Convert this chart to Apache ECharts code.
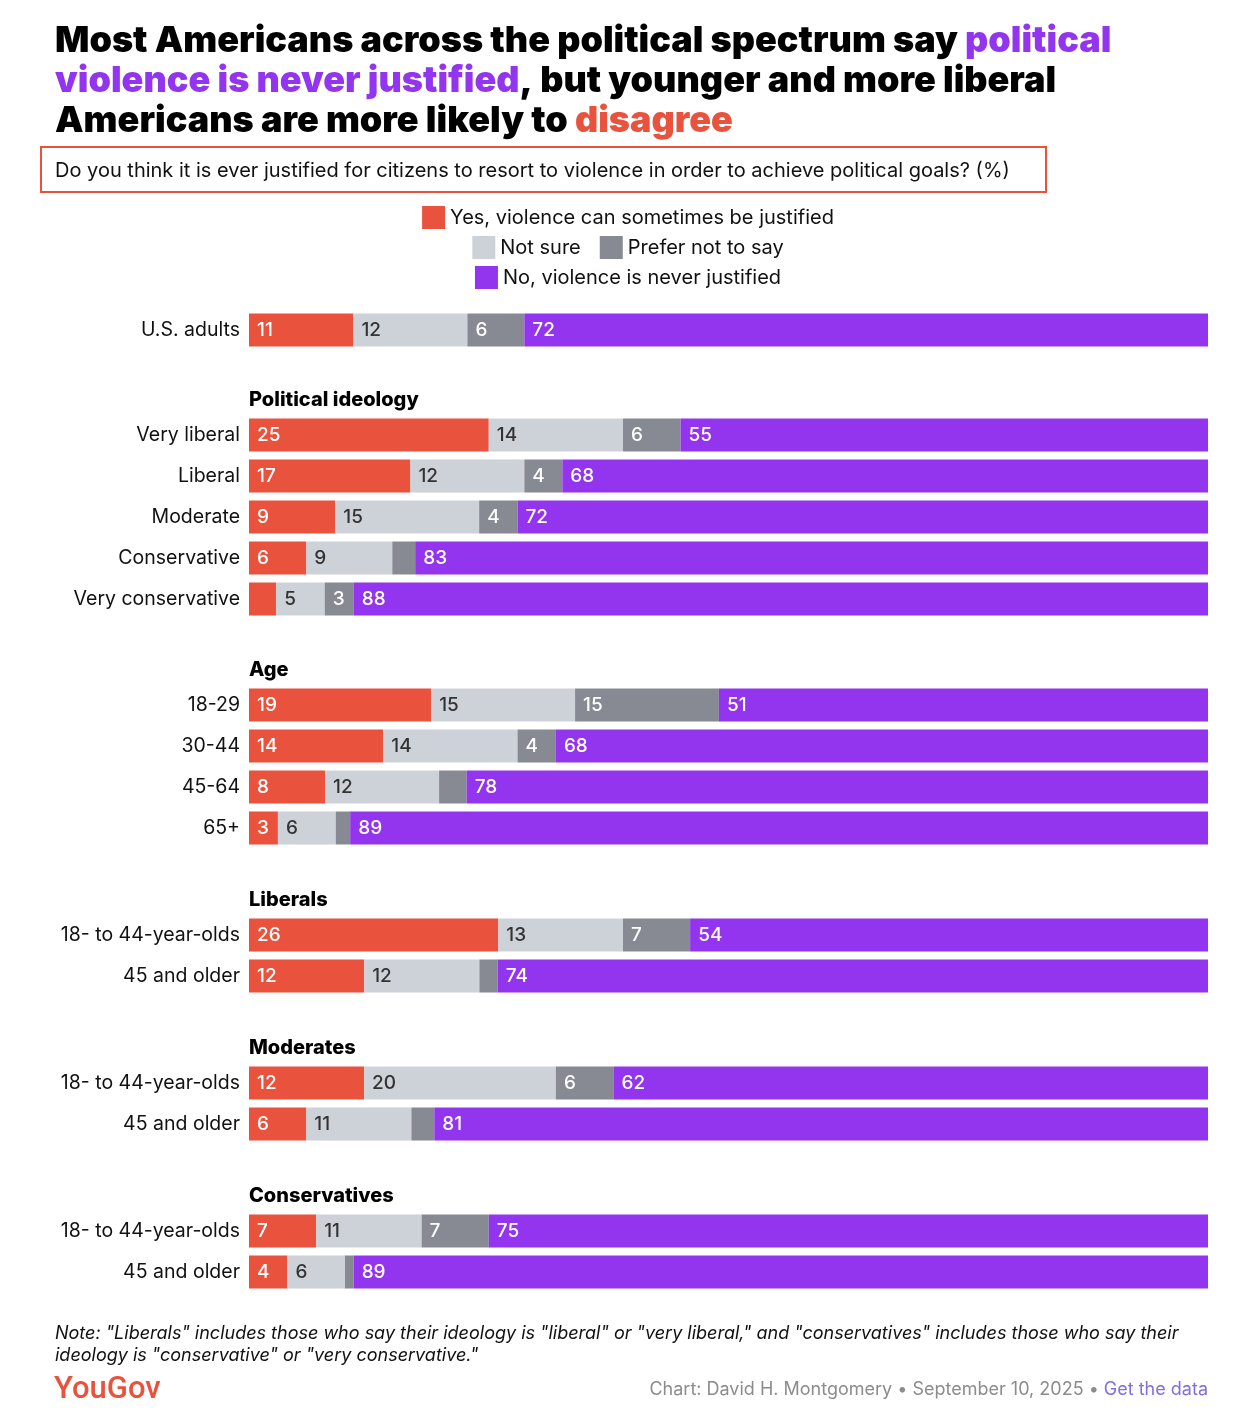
<!DOCTYPE html>
<html>
<head>
<meta charset="utf-8">
<script src="https://cdn.jsdelivr.net/npm/echarts@6/dist/echarts.min.js"></script>
<style>
html,body{margin:0;padding:0;background:#fff;}
#chart{width:1256px;height:1414px;}
</style>
</head>
<body>
<div id="chart"></div>
<script>
// groups of rows, first one has no header
var groupNames = ['', 'Political ideology', 'Age', 'Liberals', 'Moderates', 'Conservatives'];
var rowLabels = [
  ['U.S. adults'],
  ['Very liberal', 'Liberal', 'Moderate', 'Conservative', 'Very conservative'],
  ['18-29', '30-44', '45-64', '65+'],
  ['18- to 44-year-olds', '45 and older'],
  ['18- to 44-year-olds', '45 and older'],
  ['18- to 44-year-olds', '45 and older']
];
var answerNames = ['Yes, violence can sometimes be justified', 'Not sure', 'Prefer not to say', 'No, violence is never justified'];

// percentages (unlabelled small segments estimated from their width)
var yesJustified   = [[11], [25, 17, 9, 6, 2.8], [19, 14, 8, 3], [26, 12], [12, 6], [7, 4]];
var notSure        = [[12], [14, 12, 15, 9, 5], [15, 14, 12, 6], [13, 12], [20, 11], [11, 6]];
var preferNot      = [[6], [6, 4, 4, 2.4, 3], [15, 4, 2.9, 1.5], [7, 1.9], [6, 2.4], [7, 0.9]];
var neverJustified = [[72], [55, 68, 72, 83, 88], [51, 68, 78, 89], [54, 74], [62, 81], [75, 89]];

var answers = [yesJustified, notSure, preferNot, neverJustified];
var colors = ['#E9533D', '#CDD1D8', '#878A92', '#9334EE'];
var labelColors = ['#fff', '#333', '#fff', '#fff'];

// layout
var firstRowCenter = [330, 435, 705, 935, 1083, 1231];
var rowStep = 41;
var font = 'Inter, "Noto Sans", sans-serif';

var grids = [], xAxes = [], yAxes = [], series = [];
var titleFont = {fontFamily: 'Inter', fontWeight: 900, fontSize: 36, lineHeight: 40};
var titles = [
  {
    left: 55, top: 21, padding: 0,
    text: '{b|Most Americans across the political spectrum say }{p|political}\n' +
          '{p|violence is never justified}{b|, but younger and more liberal}\n' +
          '{b|Americans are more likely to }{r|disagree}',
    textStyle: {
      rich: {
        b: Object.assign({color: '#000'}, titleFont),
        p: Object.assign({color: '#9334EE'}, titleFont),
        r: Object.assign({color: '#E9533D'}, titleFont)
      }
    }
  },
  {
    left: 55, top: 161, padding: 0,
    text: 'Do you think it is ever justified for citizens to resort to violence in order to achieve political goals? (%)',
    textStyle: {fontFamily: font, fontWeight: 'normal', fontSize: 20, color: '#111'}
  },
  {
    left: 55, top: 1323, padding: 0,
    text: 'Note: "Liberals" includes those who say their ideology is "liberal" or "very liberal," and "conservatives" includes those who say their\nideology is "conservative" or "very conservative."',
    textStyle: {fontFamily: font, fontStyle: 'italic', fontWeight: 'normal', fontSize: 18, lineHeight: 22, color: '#111'}
  },
  {
    left: 54, top: 1375, padding: 0,
    text: 'YouGov',
    textStyle: {fontFamily: 'Roboto', fontWeight: 500, fontSize: 31, color: '#E9533D'}
  },
  {
    right: 48, top: 1381, padding: 0,
    text: '{g|Chart: David H. Montgomery • September 10, 2025 • }{l|Get the data}',
    textStyle: {
      rich: {
        g: {fontFamily: font, fontWeight: 'normal', fontSize: 18, color: '#8C8C8C'},
        l: {fontFamily: font, fontWeight: 'normal', fontSize: 18, color: '#7F6FE3'}
      }
    }
  }
];

groupNames.forEach(function(name, gi) {
  var n = rowLabels[gi].length;
  grids.push({left: 249, right: 48, top: firstRowCenter[gi] - rowStep / 2, height: rowStep * n});
  xAxes.push({type: 'value', gridIndex: gi, min: 0, max: 100, show: false});
  yAxes.push({
    type: 'category', gridIndex: gi, inverse: true, data: rowLabels[gi],
    axisLine: {show: false}, axisTick: {show: false}, splitLine: {show: false},
    axisLabel: {margin: 9, fontFamily: font, fontSize: 19.5, color: '#111'}
  });
  if (name) {
    titles.push({
      left: 249, top: firstRowCenter[gi] - 36 - 9, padding: 0, text: name,
      textStyle: {fontFamily: font, fontWeight: 800, fontSize: 20, color: '#000'}
    });
  }
  answers.forEach(function(values, ai) {
    var data = values[gi].map(function(v, r) {
      var sum = 0;
      answers.forEach(function(a) { sum += a[gi][r]; });
      return {value: v / sum * 100, label: {show: v >= 3}};
    });
    series.push({
      type: 'bar', name: answerNames[ai], stack: 'g' + gi,
      xAxisIndex: gi, yAxisIndex: gi, barWidth: 33,
      itemStyle: {color: colors[ai]},
      label: {
        position: 'insideLeft', distance: 8,
        fontFamily: font, fontSize: 19, fontWeight: 500, color: labelColors[ai],
        formatter: function(p) { return Math.round(values[gi][p.dataIndex]); }
      },
      emphasis: {disabled: true},
      data: data
    });
  });
});

var legendBase = {
  left: 'center', icon: 'rect', itemWidth: 23, itemHeight: 23, itemGap: 19,
  padding: 0, selectedMode: false,
  textStyle: {fontFamily: font, fontSize: 20, color: '#111'}
};
var legends = [
  Object.assign({}, legendBase, {top: 206, data: [answerNames[0]]}),
  Object.assign({}, legendBase, {top: 236, data: [answerNames[1], answerNames[2]]}),
  Object.assign({}, legendBase, {top: 266, data: [answerNames[3]]})
];

var option = {
  animation: false,
  backgroundColor: '#fff',
  title: titles,
  legend: legends,
  grid: grids,
  xAxis: xAxes,
  yAxis: yAxes,
  graphic: [{
    type: 'rect', silent: true,
    shape: {x: 41, y: 147, width: 1005, height: 45},
    style: {fill: 'none', stroke: '#E9533D', lineWidth: 2}
  }],
  series: series
};

var myChart = echarts.init(document.getElementById('chart'));
myChart.setOption(option);
</script>
</body>
</html>
